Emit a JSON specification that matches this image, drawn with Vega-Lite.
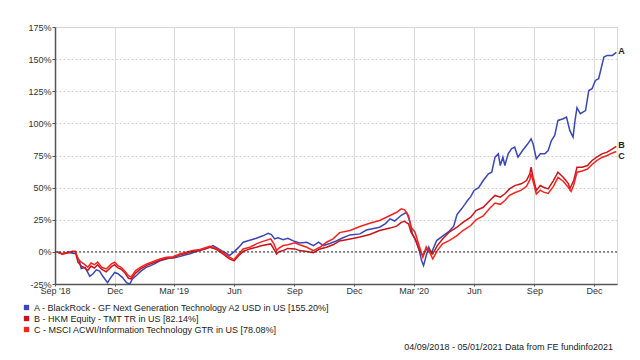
{
  "$schema": "https://vega.github.io/schema/vega-lite/v6.json",
  "width": 562,
  "height": 257,
  "autosize": {"type": "none"},
  "padding": {"left": 55, "top": 27, "right": 23, "bottom": 76},
  "background": "white",
  "config": {"font": "Liberation Sans", "view": {"stroke": "#dcdcdc"}},
  "title": {"text": "04/09/2018 - 05/01/2021 Data from FE fundinfo2021", "orient": "bottom", "anchor": "end", "frame": "group", "fontSize": 9, "fontWeight": "normal", "color": "#222", "offset": 8, "dx": -4},
  "datasets": {
    "s": [
      {"d":"2018-09-04","k":"A","v":0},{"d":"2018-09-12","k":"A","v":-1.5},{"d":"2018-09-20","k":"A","v":-0.3},{"d":"2018-09-28","k":"A","v":-1.0},{"d":"2018-10-03","k":"A","v":-1.5},{"d":"2018-10-08","k":"A","v":-7},{"d":"2018-10-11","k":"A","v":-13},{"d":"2018-10-17","k":"A","v":-12},{"d":"2018-10-24","k":"A","v":-19},{"d":"2018-10-29","k":"A","v":-17},{"d":"2018-11-03","k":"A","v":-14},{"d":"2018-11-08","k":"A","v":-15},{"d":"2018-11-13","k":"A","v":-19},{"d":"2018-11-20","k":"A","v":-24},{"d":"2018-11-25","k":"A","v":-20},{"d":"2018-12-01","k":"A","v":-16},{"d":"2018-12-06","k":"A","v":-17},{"d":"2018-12-13","k":"A","v":-20},{"d":"2018-12-19","k":"A","v":-24},{"d":"2018-12-24","k":"A","v":-25},{"d":"2018-12-28","k":"A","v":-21},{"d":"2019-01-04","k":"A","v":-18},{"d":"2019-01-10","k":"A","v":-15},{"d":"2019-01-18","k":"A","v":-12},{"d":"2019-01-25","k":"A","v":-10.7},{"d":"2019-02-01","k":"A","v":-9},{"d":"2019-02-08","k":"A","v":-7},{"d":"2019-02-15","k":"A","v":-6},{"d":"2019-02-23","k":"A","v":-4.7},{"d":"2019-03-02","k":"A","v":-4.5},{"d":"2019-03-10","k":"A","v":-3.7},{"d":"2019-03-18","k":"A","v":-2.5},{"d":"2019-03-26","k":"A","v":-1.5},{"d":"2019-04-03","k":"A","v":0},{"d":"2019-04-10","k":"A","v":1.5},{"d":"2019-04-18","k":"A","v":2.3},{"d":"2019-04-24","k":"A","v":3.5},{"d":"2019-04-30","k":"A","v":4.9},{"d":"2019-05-06","k":"A","v":3.1},{"d":"2019-05-13","k":"A","v":1},{"d":"2019-05-20","k":"A","v":-1},{"d":"2019-05-25","k":"A","v":-2.9},{"d":"2019-06-01","k":"A","v":0},{"d":"2019-06-08","k":"A","v":3.5},{"d":"2019-06-15","k":"A","v":7.5},{"d":"2019-06-25","k":"A","v":9},{"d":"2019-07-05","k":"A","v":10.6},{"d":"2019-07-15","k":"A","v":12.5},{"d":"2019-07-23","k":"A","v":14.5},{"d":"2019-07-28","k":"A","v":13.5},{"d":"2019-08-02","k":"A","v":10.1},{"d":"2019-08-07","k":"A","v":11},{"d":"2019-08-15","k":"A","v":9.5},{"d":"2019-08-22","k":"A","v":10.5},{"d":"2019-09-02","k":"A","v":8},{"d":"2019-09-09","k":"A","v":7},{"d":"2019-09-20","k":"A","v":7.5},{"d":"2019-09-30","k":"A","v":4.9},{"d":"2019-10-08","k":"A","v":7.5},{"d":"2019-10-15","k":"A","v":4.9},{"d":"2019-10-25","k":"A","v":6.5},{"d":"2019-11-04","k":"A","v":8.5},{"d":"2019-11-14","k":"A","v":11},{"d":"2019-11-25","k":"A","v":13.2},{"d":"2019-12-10","k":"A","v":14},{"d":"2019-12-20","k":"A","v":17},{"d":"2020-01-09","k":"A","v":19.2},{"d":"2020-01-18","k":"A","v":22},{"d":"2020-01-25","k":"A","v":25.7},{"d":"2020-02-01","k":"A","v":24},{"d":"2020-02-11","k":"A","v":28.5},{"d":"2020-02-19","k":"A","v":30.8},{"d":"2020-02-24","k":"A","v":24},{"d":"2020-02-28","k":"A","v":14},{"d":"2020-03-05","k":"A","v":8},{"d":"2020-03-10","k":"A","v":0},{"d":"2020-03-13","k":"A","v":-6.8},{"d":"2020-03-16","k":"A","v":-10.7},{"d":"2020-03-20","k":"A","v":-3},{"d":"2020-03-24","k":"A","v":3.6},{"d":"2020-03-28","k":"A","v":-1},{"d":"2020-04-05","k":"A","v":8.8},{"d":"2020-04-15","k":"A","v":12.7},{"d":"2020-04-24","k":"A","v":16},{"d":"2020-05-01","k":"A","v":20},{"d":"2020-05-06","k":"A","v":29},{"d":"2020-05-13","k":"A","v":33.5},{"d":"2020-05-18","k":"A","v":37},{"d":"2020-05-22","k":"A","v":40},{"d":"2020-05-27","k":"A","v":43},{"d":"2020-06-01","k":"A","v":47.8},{"d":"2020-06-08","k":"A","v":50},{"d":"2020-06-15","k":"A","v":55.5},{"d":"2020-06-23","k":"A","v":60.7},{"d":"2020-06-28","k":"A","v":62},{"d":"2020-07-03","k":"A","v":73.7},{"d":"2020-07-08","k":"A","v":76.3},{"d":"2020-07-11","k":"A","v":67.2},{"d":"2020-07-15","k":"A","v":73.7},{"d":"2020-07-18","k":"A","v":67.2},{"d":"2020-07-23","k":"A","v":76.3},{"d":"2020-07-28","k":"A","v":80.2},{"d":"2020-08-02","k":"A","v":81.5},{"d":"2020-08-07","k":"A","v":73.7},{"d":"2020-08-14","k":"A","v":78.9},{"d":"2020-08-22","k":"A","v":84.1},{"d":"2020-08-27","k":"A","v":88},{"d":"2020-08-30","k":"A","v":84.1},{"d":"2020-09-04","k":"A","v":72.4},{"d":"2020-09-10","k":"A","v":76.3},{"d":"2020-09-17","k":"A","v":76.3},{"d":"2020-09-22","k":"A","v":78.9},{"d":"2020-09-27","k":"A","v":86.7},{"d":"2020-10-02","k":"A","v":90.6},{"d":"2020-10-07","k":"A","v":102.3},{"d":"2020-10-15","k":"A","v":103.6},{"d":"2020-10-20","k":"A","v":104.9},{"d":"2020-10-25","k":"A","v":94.5},{"d":"2020-10-30","k":"A","v":89.3},{"d":"2020-11-02","k":"A","v":102.3},{"d":"2020-11-05","k":"A","v":112.2},{"d":"2020-11-10","k":"A","v":107.5},{"d":"2020-11-18","k":"A","v":110},{"d":"2020-11-23","k":"A","v":125.6},{"d":"2020-11-28","k":"A","v":127},{"d":"2020-12-03","k":"A","v":133.4},{"d":"2020-12-08","k":"A","v":134.8},{"d":"2020-12-16","k":"A","v":151.6},{"d":"2020-12-21","k":"A","v":152.9},{"d":"2020-12-29","k":"A","v":152.9},{"d":"2021-01-04","k":"A","v":155.2},

      {"d":"2018-09-04","k":"B","v":0},{"d":"2018-09-12","k":"B","v":-1.8},{"d":"2018-09-20","k":"B","v":-0.8},{"d":"2018-09-28","k":"B","v":0.3},{"d":"2018-10-02","k":"B","v":0},{"d":"2018-10-06","k":"B","v":-8},{"d":"2018-10-11","k":"B","v":-11},{"d":"2018-10-15","k":"B","v":-12},{"d":"2018-10-21","k":"B","v":-14.5},{"d":"2018-10-26","k":"B","v":-11},{"d":"2018-10-31","k":"B","v":-12.5},{"d":"2018-11-05","k":"B","v":-10},{"d":"2018-11-11","k":"B","v":-13.5},{"d":"2018-11-18","k":"B","v":-15.5},{"d":"2018-11-26","k":"B","v":-11.5},{"d":"2018-12-01","k":"B","v":-10},{"d":"2018-12-06","k":"B","v":-12.5},{"d":"2018-12-11","k":"B","v":-13.5},{"d":"2018-12-16","k":"B","v":-16},{"d":"2018-12-22","k":"B","v":-20.5},{"d":"2018-12-26","k":"B","v":-21},{"d":"2019-01-02","k":"B","v":-16.5},{"d":"2019-01-09","k":"B","v":-13.5},{"d":"2019-01-19","k":"B","v":-10.5},{"d":"2019-01-29","k":"B","v":-8.5},{"d":"2019-02-08","k":"B","v":-6.5},{"d":"2019-02-18","k":"B","v":-5},{"d":"2019-02-28","k":"B","v":-4.5},{"d":"2019-03-10","k":"B","v":-2.5},{"d":"2019-03-20","k":"B","v":-1},{"d":"2019-03-30","k":"B","v":0.3},{"d":"2019-04-10","k":"B","v":1},{"d":"2019-04-25","k":"B","v":3.6},{"d":"2019-05-05","k":"B","v":2},{"d":"2019-05-15","k":"B","v":-1.6},{"d":"2019-05-25","k":"B","v":-5.5},{"d":"2019-06-01","k":"B","v":-7},{"d":"2019-06-08","k":"B","v":-3},{"d":"2019-06-15","k":"B","v":0.3},{"d":"2019-06-25","k":"B","v":2.3},{"d":"2019-07-05","k":"B","v":3.6},{"d":"2019-07-14","k":"B","v":4.9},{"d":"2019-07-27","k":"B","v":6.2},{"d":"2019-08-01","k":"B","v":2},{"d":"2019-08-05","k":"B","v":-1.6},{"d":"2019-08-08","k":"B","v":0},{"d":"2019-08-15","k":"B","v":1},{"d":"2019-08-22","k":"B","v":2.7},{"d":"2019-09-02","k":"B","v":2.3},{"d":"2019-09-09","k":"B","v":1},{"d":"2019-09-20","k":"B","v":0.3},{"d":"2019-09-30","k":"B","v":-0.6},{"d":"2019-10-10","k":"B","v":2.3},{"d":"2019-10-20","k":"B","v":3.6},{"d":"2019-10-30","k":"B","v":5.5},{"d":"2019-11-09","k":"B","v":8.5},{"d":"2019-11-25","k":"B","v":10.1},{"d":"2019-12-10","k":"B","v":11.5},{"d":"2019-12-25","k":"B","v":13.5},{"d":"2020-01-09","k":"B","v":16.6},{"d":"2020-01-25","k":"B","v":18.5},{"d":"2020-02-04","k":"B","v":20},{"d":"2020-02-11","k":"B","v":23},{"d":"2020-02-16","k":"B","v":23.8},{"d":"2020-02-22","k":"B","v":21.8},{"d":"2020-02-26","k":"B","v":15.3},{"d":"2020-03-03","k":"B","v":10.1},{"d":"2020-03-10","k":"B","v":1},{"d":"2020-03-15","k":"B","v":-3},{"d":"2020-03-20","k":"B","v":2},{"d":"2020-03-25","k":"B","v":1.5},{"d":"2020-03-30","k":"B","v":-1.6},{"d":"2020-04-06","k":"B","v":4.9},{"d":"2020-04-14","k":"B","v":10},{"d":"2020-04-24","k":"B","v":15.3},{"d":"2020-05-06","k":"B","v":19.2},{"d":"2020-05-15","k":"B","v":23},{"d":"2020-05-27","k":"B","v":27},{"d":"2020-06-04","k":"B","v":32.2},{"d":"2020-06-15","k":"B","v":34.7},{"d":"2020-06-25","k":"B","v":40},{"d":"2020-07-03","k":"B","v":43.9},{"d":"2020-07-11","k":"B","v":42.6},{"d":"2020-07-18","k":"B","v":45.2},{"d":"2020-07-25","k":"B","v":49},{"d":"2020-08-02","k":"B","v":51.6},{"d":"2020-08-12","k":"B","v":53},{"d":"2020-08-20","k":"B","v":55.5},{"d":"2020-08-25","k":"B","v":60.7},{"d":"2020-08-27","k":"B","v":65.9},{"d":"2020-08-30","k":"B","v":58.1},{"d":"2020-09-04","k":"B","v":47.8},{"d":"2020-09-10","k":"B","v":51.6},{"d":"2020-09-15","k":"B","v":50.3},{"d":"2020-09-22","k":"B","v":49},{"d":"2020-09-30","k":"B","v":55.5},{"d":"2020-10-07","k":"B","v":62},{"d":"2020-10-15","k":"B","v":58.1},{"d":"2020-10-23","k":"B","v":53},{"d":"2020-10-25","k":"B","v":49},{"d":"2020-10-31","k":"B","v":55.5},{"d":"2020-11-05","k":"B","v":65.9},{"d":"2020-11-13","k":"B","v":65.9},{"d":"2020-11-21","k":"B","v":67.2},{"d":"2020-11-28","k":"B","v":71.1},{"d":"2020-12-05","k":"B","v":73.7},{"d":"2020-12-13","k":"B","v":76.3},{"d":"2020-12-21","k":"B","v":77.6},{"d":"2020-12-29","k":"B","v":80.2},{"d":"2021-01-04","k":"B","v":82.14},

      {"d":"2018-09-04","k":"C","v":0},{"d":"2018-09-12","k":"C","v":-1.5},{"d":"2018-09-20","k":"C","v":-0.5},{"d":"2018-09-28","k":"C","v":0.5},{"d":"2018-10-02","k":"C","v":0.5},{"d":"2018-10-06","k":"C","v":-5.5},{"d":"2018-10-11","k":"C","v":-8},{"d":"2018-10-15","k":"C","v":-9.4},{"d":"2018-10-21","k":"C","v":-12},{"d":"2018-10-26","k":"C","v":-8.7},{"d":"2018-10-31","k":"C","v":-10},{"d":"2018-11-05","k":"C","v":-8},{"d":"2018-11-11","k":"C","v":-12},{"d":"2018-11-18","k":"C","v":-13.3},{"d":"2018-11-26","k":"C","v":-9.4},{"d":"2018-12-01","k":"C","v":-8.1},{"d":"2018-12-06","k":"C","v":-10.7},{"d":"2018-12-11","k":"C","v":-12},{"d":"2018-12-16","k":"C","v":-14.6},{"d":"2018-12-22","k":"C","v":-18.5},{"d":"2018-12-26","k":"C","v":-19.5},{"d":"2019-01-02","k":"C","v":-14.6},{"d":"2019-01-09","k":"C","v":-12},{"d":"2019-01-19","k":"C","v":-9.4},{"d":"2019-01-29","k":"C","v":-7.4},{"d":"2019-02-08","k":"C","v":-5.5},{"d":"2019-02-18","k":"C","v":-4.2},{"d":"2019-02-28","k":"C","v":-3.7},{"d":"2019-03-10","k":"C","v":-1.6},{"d":"2019-03-20","k":"C","v":-0.3},{"d":"2019-03-30","k":"C","v":1},{"d":"2019-04-10","k":"C","v":1.8},{"d":"2019-04-25","k":"C","v":4.4},{"d":"2019-05-05","k":"C","v":2.7},{"d":"2019-05-15","k":"C","v":-0.3},{"d":"2019-05-25","k":"C","v":-4.2},{"d":"2019-06-01","k":"C","v":-6},{"d":"2019-06-08","k":"C","v":-1.6},{"d":"2019-06-15","k":"C","v":2.3},{"d":"2019-06-25","k":"C","v":3.6},{"d":"2019-07-05","k":"C","v":6.2},{"d":"2019-07-14","k":"C","v":8},{"d":"2019-07-27","k":"C","v":10.1},{"d":"2019-08-01","k":"C","v":6},{"d":"2019-08-05","k":"C","v":1},{"d":"2019-08-08","k":"C","v":2.8},{"d":"2019-08-15","k":"C","v":4.9},{"d":"2019-08-22","k":"C","v":5.5},{"d":"2019-09-02","k":"C","v":7},{"d":"2019-09-09","k":"C","v":5.5},{"d":"2019-09-20","k":"C","v":3.6},{"d":"2019-09-30","k":"C","v":1},{"d":"2019-10-10","k":"C","v":3.6},{"d":"2019-10-20","k":"C","v":7.5},{"d":"2019-10-30","k":"C","v":10.1},{"d":"2019-11-09","k":"C","v":15},{"d":"2019-11-25","k":"C","v":16.6},{"d":"2019-12-10","k":"C","v":19.7},{"d":"2019-12-25","k":"C","v":22.3},{"d":"2020-01-09","k":"C","v":24.4},{"d":"2020-01-25","k":"C","v":28.3},{"d":"2020-02-04","k":"C","v":30.8},{"d":"2020-02-11","k":"C","v":33.5},{"d":"2020-02-16","k":"C","v":32.7},{"d":"2020-02-22","k":"C","v":28.3},{"d":"2020-02-26","k":"C","v":19.2},{"d":"2020-03-03","k":"C","v":15.3},{"d":"2020-03-10","k":"C","v":3.6},{"d":"2020-03-15","k":"C","v":-4.2},{"d":"2020-03-20","k":"C","v":4},{"d":"2020-03-25","k":"C","v":0},{"d":"2020-03-30","k":"C","v":-5.5},{"d":"2020-04-06","k":"C","v":1},{"d":"2020-04-14","k":"C","v":6.2},{"d":"2020-04-24","k":"C","v":8.8},{"d":"2020-05-06","k":"C","v":12.7},{"d":"2020-05-15","k":"C","v":16.6},{"d":"2020-05-27","k":"C","v":20.5},{"d":"2020-06-04","k":"C","v":25},{"d":"2020-06-15","k":"C","v":28},{"d":"2020-06-25","k":"C","v":34},{"d":"2020-07-03","k":"C","v":38},{"d":"2020-07-11","k":"C","v":37},{"d":"2020-07-18","k":"C","v":40},{"d":"2020-07-25","k":"C","v":44},{"d":"2020-08-02","k":"C","v":46},{"d":"2020-08-12","k":"C","v":48},{"d":"2020-08-20","k":"C","v":51},{"d":"2020-08-25","k":"C","v":56},{"d":"2020-08-27","k":"C","v":61},{"d":"2020-08-30","k":"C","v":55},{"d":"2020-09-04","k":"C","v":45},{"d":"2020-09-10","k":"C","v":48},{"d":"2020-09-15","k":"C","v":46.5},{"d":"2020-09-22","k":"C","v":45.5},{"d":"2020-09-30","k":"C","v":51},{"d":"2020-10-07","k":"C","v":58},{"d":"2020-10-15","k":"C","v":55},{"d":"2020-10-23","k":"C","v":50},{"d":"2020-10-27","k":"C","v":47},{"d":"2020-10-31","k":"C","v":52},{"d":"2020-11-05","k":"C","v":62},{"d":"2020-11-13","k":"C","v":63},{"d":"2020-11-21","k":"C","v":64.5},{"d":"2020-11-28","k":"C","v":68},{"d":"2020-12-05","k":"C","v":71},{"d":"2020-12-13","k":"C","v":73.5},{"d":"2020-12-21","k":"C","v":75},{"d":"2020-12-29","k":"C","v":77},{"d":"2021-01-04","k":"C","v":78.08}
    ]
  },
  "layer": [
    {
      "data": {"name": "s"},
      "mark": {"type": "line", "strokeWidth": 1.5, "interpolate": "linear"},
      "encoding": {
        "x": {
          "field": "d", "type": "temporal",
          "scale": {"type": "utc", "domain": [{"year": 2018, "month": 9, "date": 1, "utc": true}, {"year": 2021, "month": 1, "date": 5, "utc": true}], "nice": false},
          "axis": {
            "title": null,
            "tickCount": 20,
            "values": [
              {"year": 2018, "month": 9, "date": 1, "utc": true},
              {"year": 2018, "month": 12, "date": 1, "utc": true},
              {"year": 2019, "month": 3, "date": 1, "utc": true},
              {"year": 2019, "month": 6, "date": 1, "utc": true},
              {"year": 2019, "month": 9, "date": 1, "utc": true},
              {"year": 2019, "month": 12, "date": 1, "utc": true},
              {"year": 2020, "month": 3, "date": 1, "utc": true},
              {"year": 2020, "month": 6, "date": 1, "utc": true},
              {"year": 2020, "month": 9, "date": 1, "utc": true},
              {"year": 2020, "month": 12, "date": 1, "utc": true}
            ],
            "labelExpr": "utcFormat(datum.value, '%b') + ((utcmonth(datum.value) == 2 || (utcmonth(datum.value) == 8 && utcyear(datum.value) == 2018)) ? utcFormat(datum.value, \" '%y\") : '')",
            "grid": true, "gridColor": "#dcdcdc", "gridWidth": 1,
            "domainColor": "#555", "domainWidth": 1.5,
            "tickColor": "#555", "tickSize": 2,
            "labelFontSize": 9, "labelColor": "#333", "labelPadding": 0, "labelFlush": false, "labelOverlap": false
          }
        },
        "y": {
          "field": "v", "type": "quantitative",
          "scale": {"domain": [-25, 175], "nice": false, "zero": false},
          "axis": {
            "title": null,
            "tickCount": 20,
            "values": [-25, 0, 25, 50, 75, 100, 125, 150, 175],
            "labelExpr": "datum.value + '%'",
            "labelOverlap": false,
            "grid": true, "gridColor": "#cfcfcf", "gridDash": [2, 2], "gridWidth": 1,
            "domainColor": "#555", "domainWidth": 1.5,
            "tickColor": "#555", "tickSize": 3,
            "labelFontSize": 9, "labelColor": "#333", "labelPadding": 1
          }
        },
        "color": {
          "field": "k", "type": "nominal",
          "scale": {"domain": ["A", "B", "C"], "range": ["#3a47b5", "#c8141a", "#f5231e"]},
          "legend": {
            "orient": "none", "legendX": -33, "legendY": 276,
            "title": null, "padding": 0,
            "symbolType": "square", "symbolSize": 28, "symbolStrokeWidth": 0,
            "labelFontSize": 9, "labelColor": "#222", "labelOffset": 3, "rowPadding": 1, "labelLimit": 500,
            "labelExpr": "{'A': 'A - BlackRock - GF Next Generation Technology A2 USD in US [155.20%]', 'B': 'B - HKM Equity - TMT TR in US [82.14%]', 'C': 'C - MSCI ACWI/Information Technology GTR in US [78.08%]'}[datum.value]",
            "encode": {"symbols": {"update": {"fill": {"scale": "color", "field": "value"}, "fillOpacity": {"value": 1}, "strokeWidth": {"value": 0}}}}
          }
        }
      }
    },
    {
      "data": {"values": [{"z": 0}]},
      "mark": {"type": "rule", "strokeDash": [2, 2], "color": "#333", "strokeWidth": 1},
      "encoding": {
        "y": {
          "field": "z", "type": "quantitative",
          "scale": {"domain": [-25, 175], "nice": false, "zero": false},
          "axis": {
            "title": null,
            "tickCount": 20,
            "values": [-25, 0, 25, 50, 75, 100, 125, 150, 175],
            "labelExpr": "datum.value + '%'",
            "labelOverlap": false,
            "grid": true, "gridColor": "#cfcfcf", "gridDash": [2, 2], "gridWidth": 1,
            "domainColor": "#555", "domainWidth": 1.5,
            "tickColor": "#555", "tickSize": 3,
            "labelFontSize": 9, "labelColor": "#333", "labelPadding": 1
          }
        }
      }
    },
    {
      "data": {"name": "s"},
      "transform": [
        {"joinaggregate": [{"op": "max", "field": "d", "as": "md"}]},
        {"filter": "time(datum.d) == time(datum.md) && datum.k != 'C'"}
      ],
      "mark": {"type": "text", "align": "left", "baseline": "middle", "dx": 2, "dy": -1, "fontSize": 9, "fontWeight": "bold", "color": "#222"},
      "encoding": {
        "x": {"field": "d", "type": "temporal"},
        "y": {"field": "v", "type": "quantitative"},
        "text": {"field": "k"}
      }
    },
    {
      "data": {"name": "s"},
      "transform": [
        {"joinaggregate": [{"op": "max", "field": "d", "as": "md"}]},
        {"filter": "time(datum.d) == time(datum.md) && datum.k == 'C'"}
      ],
      "mark": {"type": "text", "align": "left", "baseline": "middle", "dx": 2, "dy": 4, "fontSize": 9, "fontWeight": "bold", "color": "#222"},
      "encoding": {
        "x": {"field": "d", "type": "temporal"},
        "y": {"field": "v", "type": "quantitative"},
        "text": {"field": "k"}
      }
    }
  ]
}
